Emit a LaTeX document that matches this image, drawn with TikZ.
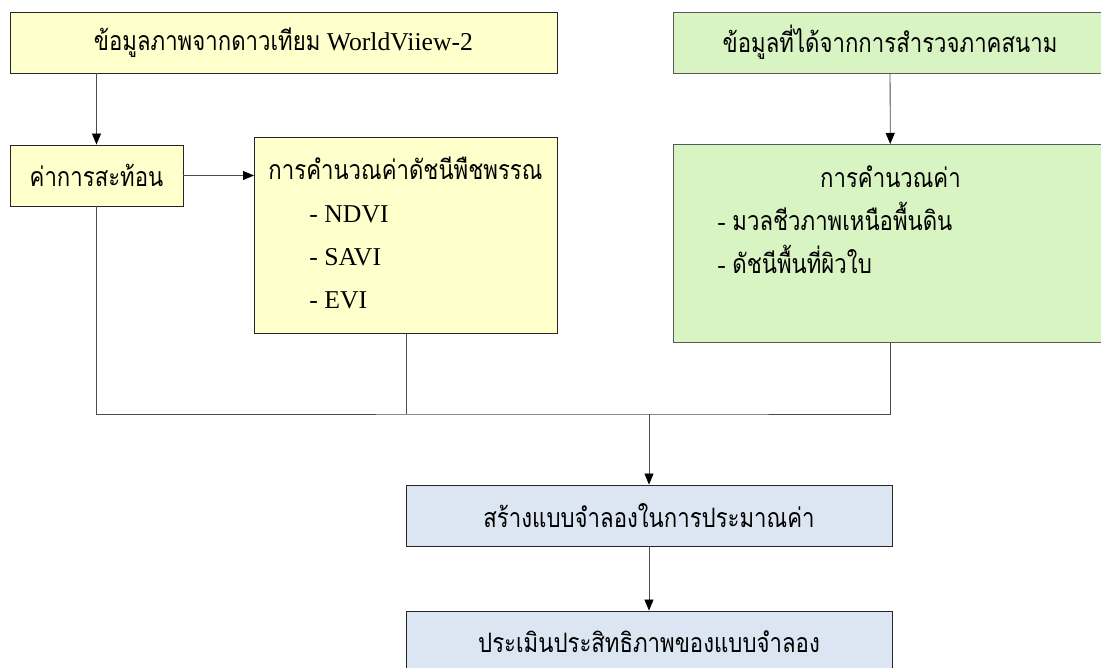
\documentclass[tikz,border=0pt]{standalone}
\usepackage{fontspec}
\setmainfont{Liberation Serif}
\newfontfamily\thaifont[Script=Thai,Scale=1.04,FakeStretch=0.83]{Loma}
\usetikzlibrary{arrows.meta}
\definecolor{boxyellow}{HTML}{FFFFCC}
\definecolor{boxgreen}{HTML}{D9F4C3}
\definecolor{boxblue}{HTML}{DCE6F2}

\begin{document}
\begin{tikzpicture}
  [x=1pt,y=-1pt,
   every node/.style={rectangle,draw=black!85,line width=0.9pt,inner sep=0pt,
     font=\fontsize{25.7}{43}\selectfont},
   yel/.style={fill=boxyellow},
   grn/.style={fill=boxgreen,draw=black!65},
   blu/.style={fill=boxblue},
   link/.style={draw=black!70,line width=0.8pt},
   tip/.style={-{Triangle[length=11pt,width=9pt,color=black]}}]
  \useasboundingbox (0,0) rectangle (1101,668);

  \node[yel,minimum width=547pt,minimum height=61pt] (n1) at (283.5,42.5)
    {{\thaifont ข้อมูลภาพจากดาวเทียม} WorldViiew-2};
  \node[grn,minimum width=434pt,minimum height=61pt] (n2) at (890,42.5)
    {\thaifont ข้อมูลที่ได้จากการสำรวจภาคสนาม};
  \node[yel,minimum width=173pt,minimum height=61pt] (n3) at (96.5,175.5)
    {\thaifont ค่าการสะท้อน};
  \node[yel,anchor=north west] (n4) at (254,137)
    {\begin{minipage}[t][196pt][t]{303pt}
     \rule{0pt}{42pt}\hspace*{14pt}{\thaifont การคำนวณค่าดัชนีพืชพรรณ}\\
     \hspace*{55pt}- NDVI\\
     \hspace*{55pt}- SAVI\\
     \hspace*{55pt}- EVI
     \end{minipage}};
  \node[grn,anchor=north west] (n5) at (673,144)
    {\begin{minipage}[t][198pt][t]{434pt}
     \makebox[\linewidth]{\rule{0pt}{43pt}\thaifont การคำนวณค่า}\\
     \hspace*{44pt}- {\thaifont มวลชีวภาพเหนือพื้นดิน}\\
     \hspace*{44pt}- {\thaifont ดัชนีพื้นที่ผิวใบ}
     \end{minipage}};
  \node[blu,minimum width=486pt,minimum height=61pt] (n6) at (649,515.5)
    {\thaifont สร้างแบบจำลองในการประมาณค่า};
  \node[blu,minimum width=486pt,minimum height=61pt] (n7) at (649,641.5)
    {\thaifont ประเมินประสิทธิภาพของแบบจำลอง};

  \coordinate (bus) at (649,414);

  \foreach \from/\to in {n3 |- n1.south/n3.north,n2/n5,n3.east/n3.east -| n4.west,n6/n7}
    \draw[link,tip] (\from) -- (\to);
  \draw[link] (n3.south) |- (bus) -| (n5.south);
  \draw[link] (n4.south) -- (n4.south |- bus);
  \draw[link,tip] (bus) -- (n6.north);

\end{tikzpicture}
\end{document}
